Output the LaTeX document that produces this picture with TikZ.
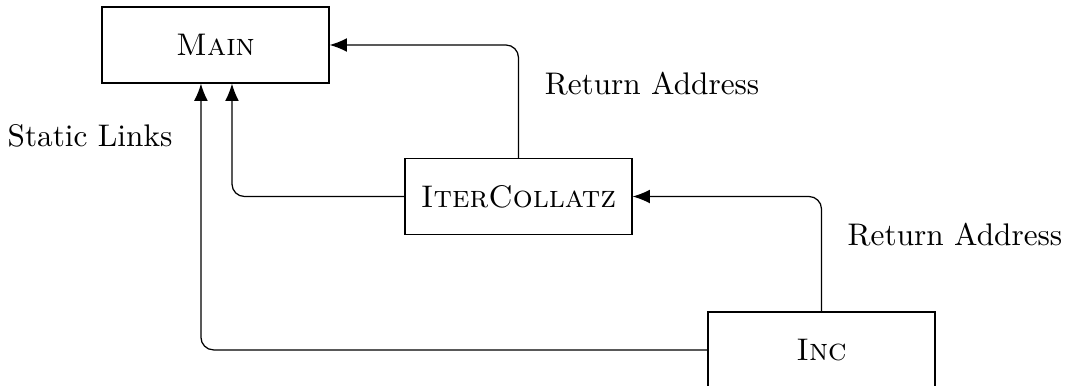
\documentclass[tikz,border=0pt]{standalone}
\usetikzlibrary{arrows.meta}
\begin{document}
\begin{tikzpicture}[
  frame/.style={draw, rectangle, minimum width=2.553cm, minimum height=0.855cm, inner sep=0pt, font=\scshape},
  link/.style={-{Latex[length=5.5pt,width=4.4pt]}, rounded corners=4pt},
  lbl/.style={inner sep=0pt}
]
\useasboundingbox (0,0) rectangle (12,-4.33);

% activation records
\node[frame] (main) at (2.424,-0.506) {Main};
\node[frame] (iter) at (5.831,-2.210) {IterCollatz};
\node[frame] (inc)  at (9.239,-3.935) {Inc};

% return addresses
\draw[link] (iter.north) |- (main.east);
\draw[link] (inc.north) |- (iter.east);

% static links
\draw[link] (iter.west) -| ([xshift=0.185cm]main.south);
\draw[link] (inc.west) -| ([xshift=-0.164cm]main.south);

% labels
\node[lbl] (ra1) at (7.333,-0.945) {Return Address};
\node[lbl] (ra2) at (10.74,-2.643) {Return Address};
\node[lbl] (sl)  at (1.012,-1.53) {Static Links};
\end{tikzpicture}
\end{document}
